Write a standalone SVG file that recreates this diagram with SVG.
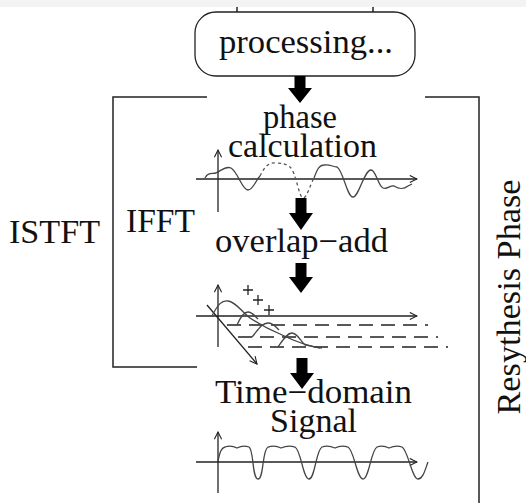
<svg xmlns="http://www.w3.org/2000/svg" width="526" height="503" viewBox="0 0 526 503">
<defs>
<style>
text{font-family:"Liberation Serif","Times New Roman","DejaVu Serif",serif;font-size:33px;fill:#111}
.ln{fill:none;stroke:#222;stroke-width:1.5}
.ax{fill:none;stroke:#222;stroke-width:1.3}
.wv{fill:none;stroke:#444;stroke-width:1.3}
.dot{fill:none;stroke:#555;stroke-width:1.3;stroke-dasharray:3 3}
.dash{fill:none;stroke:#222;stroke-width:1.3;stroke-dasharray:14 8}
.arr{fill:#000;stroke:none}
</style>
<marker id="open" viewBox="0 0 10 10" refX="9" refY="5" markerWidth="9" markerHeight="9" markerUnits="userSpaceOnUse" orient="auto">
<path d="M1,1 L9,5 L1,9" fill="none" stroke="#222" stroke-width="1.2"/>
</marker>
</defs>
<rect x="0" y="0" width="526" height="503" fill="#fff"/>
<rect x="0" y="0" width="526" height="7" fill="#f3f3f3"/>
<g id="top-ticks">
<line x1="237" y1="7" x2="237" y2="12" class="ln"/>
<line x1="373" y1="7" x2="373" y2="12" class="ln"/>
</g>
<g id="processing">
<rect x="195" y="12" width="220" height="64" rx="21" ry="21" fill="#fff" stroke="#222" stroke-width="1.3"/>
<text x="306" y="53" font-family="Liberation Serif, serif" font-size="36" text-anchor="middle" textLength="174" lengthAdjust="spacingAndGlyphs">processing...</text>
</g>
<g id="istft">
<path class="ln" d="M207,97 H113 V367 H197"/>
<text x="9" y="243" font-family="Liberation Serif, serif" textLength="91" lengthAdjust="spacingAndGlyphs">ISTFT</text>
</g>
<g id="ifft">
<text x="126" y="232" font-family="Liberation Serif, serif" textLength="69" lengthAdjust="spacingAndGlyphs">IFFT</text>
</g>
<g id="resynthesis">
<path class="ln" d="M425,97 H479 V503"/>
<text transform="translate(520,297) rotate(-90)" font-family="Liberation Serif, serif" font-size="28" text-anchor="middle" textLength="235" lengthAdjust="spacingAndGlyphs">Resythesis Phase</text>
</g>
<g id="phase-calculation">
<text x="300" y="128" font-family="Liberation Serif, serif" text-anchor="middle" textLength="74" lengthAdjust="spacingAndGlyphs">phase</text>
<text x="302.5" y="157" font-family="Liberation Serif, serif" text-anchor="middle" textLength="149" lengthAdjust="spacingAndGlyphs">calculation</text>
<line class="ax" x1="196" y1="179" x2="417" y2="179" marker-end="url(#open)"/>
<line class="ax" x1="218" y1="212" x2="218" y2="150" marker-end="url(#open)"/>
<path class="wv" d="M205,178 C208,172 212,174 216,173 C222,170 226,166 231,168 C238,172 242,190 248,190 C253,190 256,180 260,176"/>
<path class="dot" d="M260,176 C264,168 268,162 276,163 C282,163 286,164 290,167 C296,172 299,198 303,198 C307,198 310,185 314,178"/>
<path class="wv" d="M314,178 C317,170 319,165 324,165 C330,164 333,167 337,167 C343,170 347,197 353,197 C359,197 364,170 371,170 C376,170 378,186 383,188 C387,190 390,185 394,186 C399,189 403,190 408,186 L412,184"/>
</g>
<g id="overlap-add">
<text x="215" y="252" font-family="Liberation Serif, serif" textLength="173" lengthAdjust="spacingAndGlyphs">overlap−add</text>
<line class="ax" x1="196" y1="316" x2="417" y2="316" marker-end="url(#open)"/>
<line class="ax" x1="218" y1="347" x2="218" y2="285" marker-end="url(#open)"/>
<line class="ax" x1="207" y1="305" x2="257" y2="364" marker-end="url(#open)"/>
<path class="ax" d="M243,290 H253 M248,285 V295 M253,300 H263 M258,295 V305 M264,310 H274 M269,305 V315"/>
<line class="dash" x1="227" y1="325" x2="428" y2="325"/>
<line class="dash" x1="238" y1="337" x2="438" y2="337"/>
<line class="dash" x1="248" y1="347" x2="448" y2="347"/>
<path class="wv" d="M212,316 C218,304 222,300 228,301 C236,302 242,312 250,318 C262,326 270,330 280,334 C292,340 305,346 322,348"/>
<path class="wv" d="M237,325 C241,316 244,312 248,312 C252,312 255,316 258,319"/>
<path class="wv" d="M252,337 C258,330 262,323 268,323 C273,323 276,327 279,330"/>
<path class="wv" d="M278,347 C283,340 287,333 292,333 C297,333 300,340 305,345 L320,348"/>
</g>
<g id="time-domain">
<text x="215" y="403" font-family="Liberation Serif, serif" textLength="197" lengthAdjust="spacingAndGlyphs">Time−domain</text>
<text x="270" y="432" font-family="Liberation Serif, serif" textLength="87" lengthAdjust="spacingAndGlyphs">Signal</text>
<line class="ax" x1="196" y1="462" x2="417" y2="462" marker-end="url(#open)"/>
<line class="ax" x1="218" y1="493" x2="218" y2="432" marker-end="url(#open)"/>
<path class="wv" d="M218,461 C220,452 221,448 225,447 Q231,445 237,448 Q243,445 249,447 C254,450 252,479 258,479 C264,479 262,450 268,447 Q275,445 281,448 Q288,445 295,447 C301,450 303,479 309,479 C315,479 316,450 322,447 Q328,445 335,448 Q341,445 348,447 C354,450 357,479 363,479 C369,479 371,450 377,447 Q383,445 389,448 Q396,445 402,447 C408,450 412,479 418,479 C423,479 425,470 428,462"/>
</g>
<g id="connectors">
<path class="arr" d="M294.5,76 H305.5 V88 H312 L300,103 L288,88 H294.5 Z"/>
<path class="arr" d="M295.5,198 H306.5 V213 H313 L301,230 L289,213 H295.5 Z"/>
<path class="arr" d="M295.5,263 H306.5 V277 H313 L301,293 L289,277 H295.5 Z"/>
<path class="arr" d="M296.5,358 H307.5 V373 H314 L302,389 L290,373 H296.5 Z"/>
</g>
</svg>
